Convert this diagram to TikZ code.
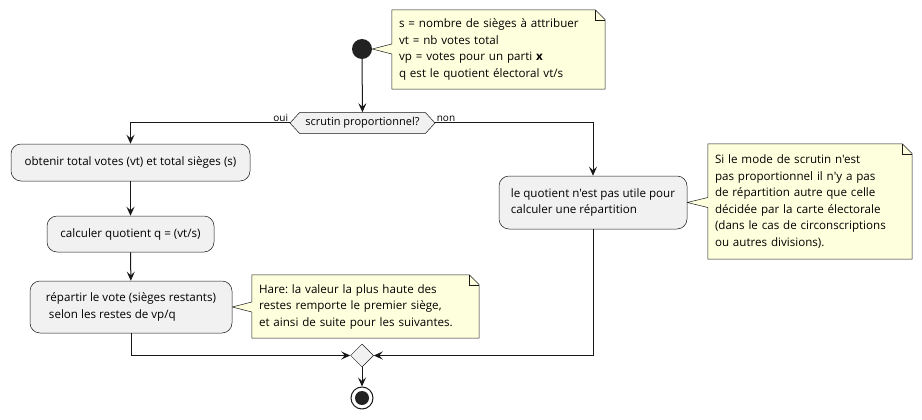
\documentclass[tikz,border=0pt]{standalone}
\usepackage{fontspec}
\setmainfont{Open Sans}[Ligatures=TeXOff]
\usepackage{tikz}
\usetikzlibrary{arrows.meta}
\usetikzlibrary{shapes.geometric,shapes.symbols}
\usetikzlibrary{backgrounds}
\frenchspacing

\definecolor{boxgray}{HTML}{F1F1F1}
\definecolor{noteyellow}{HTML}{FEFFDD}
\definecolor{linedark}{HTML}{181818}
\definecolor{dotdark}{HTML}{222222}

% note outline with folded corner and wedge towards a node
\newcommand{\notewedge}[2]{%
  \filldraw[noteline] (#1.north west) -- ([xshift=-10pt]#1.north east)
    -- ([yshift=-10pt]#1.north east) -- (#1.south east) -- (#1.south west)
    -- ([yshift=-5pt]#1.west |- #2.east) -- (#2.east)
    -- ([yshift=5pt]#1.west |- #2.east) -- cycle;
  \draw[noteline, fill=none] ([xshift=-10pt]#1.north east) |- ([yshift=-10pt]#1.north east);
}

\begin{document}
\begin{tikzpicture}[x=1pt, y=-1pt,
    txt/.style={font=\fontsize{11.6}{16.5}\selectfont},
    action/.style={txt, rectangle, rounded corners=10pt, draw=linedark, fill=boxgray,
      line width=0.5pt, align=left, inner sep=0pt},
    choice/.style={font=\fontsize{11}{13}\selectfont, signal, signal to=west and east,
      signal pointer angle=95, draw=linedark, fill=boxgray, line width=0.5pt,
      minimum width=145pt, minimum height=21pt, inner sep=0pt},
    merger/.style={diamond, draw=linedark, fill=boxgray, line width=0.5pt,
      minimum width=23pt, minimum height=23pt, inner sep=0pt},
    notetext/.style={txt, align=left, inner xsep=7pt, inner ysep=0pt, text width=#1-14pt},
    noteline/.style={draw=linedark, fill=noteyellow, line width=0.5pt},
    small/.style={font=\fontsize{10}{12}\selectfont, inner sep=1pt},
    flow/.style={draw=linedark, line width=1pt,
      -{Stealth[length=9pt, width=8pt, inset=3.5pt]}}
  ]
    \useasboundingbox (0,0) rectangle (922,420);

    % Graph nodes
    \node[circle, fill=dotdark, minimum size=20pt, inner sep=0pt] (start) at (362,49) {};
    \node[choice] (prop) at (362.5,123) {scrutin proportionnel?};
    \node[action, minimum width=239pt, minimum height=37pt] (total) at (130.5,162.5)
      {obtenir total votes (vt) et total sièges (s)};
    \node[action, minimum width=167pt, minimum height=36pt] (quot) at (130.5,234)
      {calculer quotient q = (vt/s)};
    \node[action, minimum width=202pt, minimum height=52pt] (reste) at (131,307)
      {répartir le vote (sièges restants)\\ \ selon les restes de vp/q};
    \node[action, minimum width=188pt, minimum height=53pt] (inutile) at (593,202.5)
      {le quotient n'est pas utile pour\\calculer une répartition};
    \node[merger] (merge) at (362,355.5) {};
    \node[circle, draw=linedark, fill=white, line width=1pt, minimum size=22pt, inner sep=0pt,
      path picture={\fill[dotdark] (path picture bounding box.center) circle (7pt);}]
      (stop) at (362,398) {};

    % Notes
    \node[notetext=213pt, minimum height=79pt] (defs) at (498.5,49.5)
      {s = nombre de sièges à attribuer\\vt = nb votes total\\vp = votes pour un parti \textbf{x}\\q est le quotient électoral vt/s};
    \node[notetext=227pt, minimum height=63pt] (hare) at (365.5,306.5)
      {Hare: la valeur la plus haute des\\restes remporte le premier siège,\\et ainsi de suite pour les suivantes.};
    \node[notetext=204pt, minimum height=115pt] (carte) at (810,201.5)
      {Si le mode de scrutin n'est\\pas proportionnel il n'y a pas\\de répartition autre que celle\\décidée par la carte électorale\\(dans le cas de circonscriptions\\ou autres divisions).};
    \begin{scope}[on background layer]
      \notewedge{defs}{start}
      \notewedge{hare}{reste}
      \notewedge{carte}{inutile}
    \end{scope}

    % Edges with labels
    \draw[flow] (start) -- (prop);
    \draw[flow] (prop.west) -| node[pos=0, above left, small] {oui} (total.north);
    \draw[flow] (prop.east) -| node[pos=0, above right, small] {non} (inutile.north);
    \draw[flow] (total) -- (quot);
    \draw[flow] (quot) -- (reste);
    \draw[flow] (reste.south) |- (merge.west);
    \draw[flow] (inutile.south) |- (merge.east);
    \draw[flow] (merge) -- (stop);

\end{tikzpicture}
\end{document}
